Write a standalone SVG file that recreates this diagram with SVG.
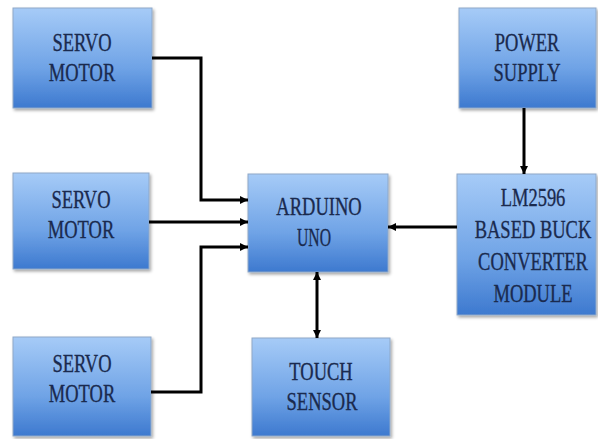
<svg xmlns="http://www.w3.org/2000/svg" width="598" height="439" viewBox="0 0 598 439">
<defs>
<linearGradient id="g" x1="0" y1="0" x2="0" y2="1">
<stop offset="0" stop-color="#a6cbf7"/>
<stop offset="0.6" stop-color="#6fa3e6"/>
<stop offset="1" stop-color="#3d79cf"/>
</linearGradient>
<filter id="sh" x="-10%" y="-10%" width="125%" height="125%">
<feDropShadow dx="1.5" dy="2" stdDeviation="1.5" flood-color="#000" flood-opacity="0.35"/>
</filter>
<marker id="ah" viewBox="0 0 10 10" refX="10" refY="5" markerWidth="9" markerHeight="8" markerUnits="userSpaceOnUse" orient="auto-start-reverse">
<path d="M0,0 L10,5 L0,10 z" fill="#000"/>
</marker>
<style>
.box{fill:url(#g);stroke:#8fa8c8;stroke-width:1;filter:url(#sh)}
.t{font-family:"Liberation Serif","Times New Roman",serif;font-size:18.5px;fill:#1a2a4e;stroke:#1a2a4e;stroke-width:0.25;text-anchor:middle}
.c{fill:none;stroke:#000;stroke-width:3}
</style>
</defs>
<g id="servo1"><rect class="box" x="13" y="8" width="139" height="100"/>
<text class="t" transform="translate(82,51) scale(1,1.32)">SERVO</text>
<text class="t" transform="translate(82,81) scale(1,1.32)">MOTOR</text></g>
<g id="servo2"><rect class="box" x="13" y="173" width="136" height="96"/>
<text class="t" transform="translate(81,208) scale(1,1.32)">SERVO</text>
<text class="t" transform="translate(81,238) scale(1,1.32)">MOTOR</text></g>
<g id="servo3"><rect class="box" x="13" y="337" width="138" height="99"/>
<text class="t" transform="translate(82,372) scale(1,1.32)">SERVO</text>
<text class="t" transform="translate(82,402) scale(1,1.32)">MOTOR</text></g>
<g id="arduino"><rect class="box" x="248" y="174" width="140" height="98"/>
<text class="t" transform="translate(319,215) scale(1,1.32)">ARDUINO</text>
<text class="t" transform="translate(314,246) scale(1,1.32)" textLength="34" lengthAdjust="spacingAndGlyphs">UNO</text></g>
<g id="touch"><rect class="box" x="252" y="338" width="138" height="98"/>
<text class="t" transform="translate(321,380) scale(1,1.32)">TOUCH</text>
<text class="t" transform="translate(322,410) scale(1,1.32)">SENSOR</text></g>
<g id="power"><rect class="box" x="459" y="8" width="137" height="100"/>
<text class="t" transform="translate(527,51) scale(1,1.32)">POWER</text>
<text class="t" transform="translate(527,81) scale(1,1.32)">SUPPLY</text></g>
<g id="buck"><rect class="box" x="457" y="174" width="139" height="141"/>
<text class="t" transform="translate(533,206) scale(1,1.32)">LM2596</text>
<text class="t" transform="translate(533,238) scale(1,1.32)">BASED BUCK</text>
<text class="t" transform="translate(533,270) scale(1,1.32)">CONVERTER</text>
<text class="t" transform="translate(533,302) scale(1,1.32)">MODULE</text></g>
<g id="connectors">
<path class="c" d="M152,58 H201 V200 H248" marker-end="url(#ah)"/>
<path class="c" d="M149,222 H248" marker-end="url(#ah)"/>
<path class="c" d="M151,392 H201 V247 H248" marker-end="url(#ah)"/>
<path class="c" d="M524,108 V174" marker-end="url(#ah)"/>
<path class="c" d="M457,227 H388" marker-end="url(#ah)"/>
<path class="c" d="M317,272 V338" marker-start="url(#ah)" marker-end="url(#ah)"/>
</g>
</svg>
